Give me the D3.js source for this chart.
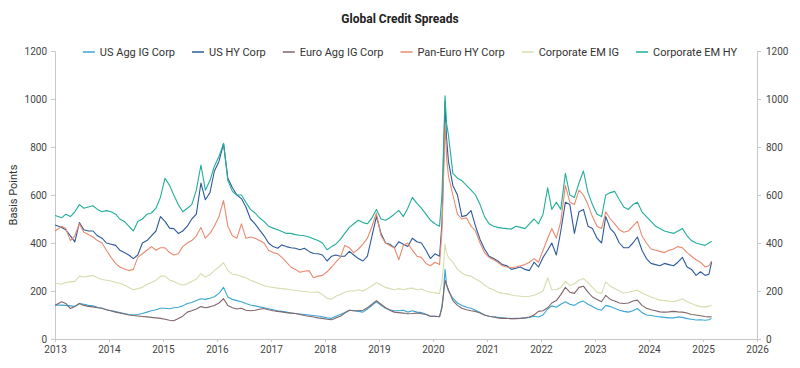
<!DOCTYPE html>
<html><head><meta charset="utf-8">
<script src="https://cdn.jsdelivr.net/npm/d3@7"></script>
<style>body{margin:0;background:#fff}svg{display:block}text{font-family:Roboto,"Noto Sans",sans-serif}</style>
</head><body><svg id="c" width="800" height="368"></svg>
<script>
const dates = [
"2013-01-02","2013-02-15","2013-03-15","2013-04-15","2013-05-15","2013-06-15","2013-07-15","2013-08-15","2013-09-15","2013-10-15","2013-11-15","2013-12-15",
"2014-01-15","2014-02-15","2014-03-15","2014-04-15","2014-05-15","2014-06-15","2014-07-15","2014-08-15","2014-09-15","2014-10-15","2014-11-15","2014-12-15",
"2015-01-15","2015-02-15","2015-03-15","2015-04-15","2015-05-15","2015-06-15","2015-07-15","2015-08-15","2015-09-15","2015-10-15","2015-11-15","2015-12-15",
"2016-01-15","2016-02-15","2016-03-15","2016-04-15","2016-05-15","2016-06-15","2016-07-15","2016-08-15","2016-09-15","2016-10-15","2016-11-15","2016-12-15",
"2017-01-15","2017-02-15","2017-03-15","2017-04-15","2017-05-15","2017-06-15","2017-07-15","2017-08-15","2017-09-15","2017-10-15","2017-11-15","2017-12-15",
"2018-01-15","2018-02-15","2018-03-15","2018-04-15","2018-05-15","2018-06-15","2018-07-15","2018-08-15","2018-09-15","2018-10-15","2018-11-15","2018-12-15",
"2019-01-15","2019-02-15","2019-03-15","2019-04-15","2019-05-15","2019-06-15","2019-07-15","2019-08-15","2019-09-15","2019-10-15","2019-11-15","2019-12-15",
"2020-01-15","2020-02-15","2020-03-02","2020-03-12","2020-03-23","2020-04-02","2020-04-15","2020-05-15","2020-06-15","2020-07-15","2020-08-15","2020-09-15","2020-10-15","2020-11-15","2020-12-15",
"2021-01-15","2021-02-15","2021-03-15","2021-04-15","2021-05-15","2021-06-15","2021-07-15","2021-08-15","2021-09-15","2021-10-15","2021-11-15","2021-12-15",
"2022-01-15","2022-02-15","2022-03-15","2022-04-15","2022-05-15","2022-06-15","2022-07-15","2022-08-15","2022-09-15","2022-10-15","2022-11-15","2022-12-15",
"2023-01-15","2023-02-15","2023-03-15","2023-04-15","2023-05-15","2023-06-15","2023-07-15","2023-08-15","2023-09-15","2023-10-15","2023-11-15","2023-12-15",
"2024-01-15","2024-02-15","2024-03-15","2024-04-15","2024-05-15","2024-06-15","2024-07-15","2024-08-15","2024-09-15","2024-10-15","2024-11-15","2024-12-15",
"2025-01-15","2025-02-10","2025-02-28"];

const usAggIG = [
141,141,140,138,136,148,145,140,138,132,128,122,
118,114,110,106,102,100,102,106,112,118,122,128,
128,126,130,132,138,148,152,160,168,165,170,176,
190,215,175,165,160,155,148,142,138,134,130,126,
122,118,115,112,108,106,104,102,100,98,96,93,
88,86,95,102,110,120,118,115,112,125,140,155,
140,128,122,118,118,120,112,118,112,110,103,95,
95,93,135,190,290,230,200,170,150,140,132,128,120,110,100,
95,92,90,88,86,85,86,86,88,90,95,92,
100,125,138,132,145,155,145,140,152,158,145,135,
125,120,140,135,128,120,115,112,118,127,110,100,
98,95,92,90,88,88,92,90,85,82,79,80,
78,80,86];

const usHY = [
475,465,455,430,405,485,455,450,450,430,420,400,
395,390,370,360,350,335,350,400,410,430,450,510,
490,462,460,440,450,470,500,520,650,580,610,700,
740,814,670,630,600,585,550,500,480,455,430,400,
385,378,392,385,380,378,372,378,365,356,355,350,
325,345,350,345,345,365,350,335,325,345,430,510,
440,400,395,380,405,395,385,420,405,400,370,335,
355,345,480,700,990,840,740,640,600,510,515,535,470,415,375,
345,335,325,310,305,290,295,300,290,285,320,300,
340,370,400,350,450,570,560,440,530,540,470,460,
420,400,510,460,440,400,380,380,400,425,370,335,
315,310,305,315,310,305,320,340,300,290,265,280,
265,270,320];

const euroAggIG = [
141,155,148,127,135,148,140,136,134,130,128,122,
118,112,108,104,100,98,96,94,92,90,88,86,
82,78,76,85,95,112,118,125,135,130,134,140,
150,168,140,130,125,128,120,118,120,124,127,122,
118,115,113,110,108,106,102,98,95,92,88,86,
82,80,88,95,108,120,118,118,120,130,145,160,
145,130,120,112,110,108,105,106,108,105,102,95,
95,93,130,180,245,225,205,160,140,128,122,118,115,108,100,
95,92,88,86,86,85,85,86,88,92,100,115,
118,130,150,160,185,215,195,190,215,220,195,175,
165,155,182,165,158,150,148,150,158,162,140,128,
122,118,113,112,113,115,113,112,108,102,100,97,
94,92,93];

const panEuroHY = [
450,470,460,410,430,480,445,435,425,410,400,370,
340,315,300,292,285,290,340,355,370,385,370,380,
380,360,350,355,385,400,410,430,465,420,440,470,
510,577,470,430,420,480,420,425,420,410,400,370,
360,355,340,320,300,290,278,282,285,255,262,265,
280,300,320,340,390,380,360,375,395,420,470,525,
430,400,390,380,330,390,400,370,345,340,315,305,
320,310,450,650,900,760,680,600,520,500,505,470,450,400,360,
340,330,320,305,300,298,300,305,310,320,335,320,
370,420,460,420,490,640,570,560,620,600,560,510,
470,460,530,500,480,455,445,450,470,490,430,400,
375,370,365,360,370,375,385,380,360,345,330,320,
300,305,325];

const emIG = [
232,228,236,238,240,262,258,262,265,255,248,245,
242,235,232,225,215,205,210,215,228,235,245,262,
262,245,240,230,225,230,240,250,272,258,268,285,
300,318,285,270,268,260,255,245,238,230,222,218,
215,212,210,208,205,202,200,198,196,195,196,185,
170,165,178,185,195,200,200,205,200,210,222,235,
225,215,210,205,210,205,210,212,205,208,200,195,
192,190,240,300,395,360,340,320,290,275,265,262,250,240,225,
212,205,195,190,188,183,180,178,176,178,182,190,
200,255,205,205,215,240,222,230,245,252,235,215,
195,190,238,220,210,200,192,195,200,203,192,183,
175,168,162,160,158,155,160,168,155,148,140,135,
134,137,141];

const emHY = [
515,505,520,510,530,560,545,550,555,540,530,535,
530,520,500,490,470,450,490,500,520,525,545,590,
670,640,600,560,530,545,560,620,725,620,660,720,
760,815,660,615,600,600,570,540,525,505,490,470,
462,455,448,440,440,435,432,430,425,418,410,400,
372,385,395,415,440,465,480,495,485,480,505,540,
500,495,505,520,536,510,545,590,565,545,520,495,
480,470,600,780,1013,900,850,690,670,660,640,620,600,560,510,
480,470,465,462,460,458,470,465,460,480,500,480,
520,630,540,570,540,690,600,590,650,700,610,560,
520,510,600,610,615,580,550,540,560,570,530,510,
490,470,460,450,445,440,450,460,430,410,400,395,
390,400,408];

const seriesNames = ["US Agg IG Corp","US HY Corp","Euro Agg IG Corp","Pan-Euro HY Corp","Corporate EM IG","Corporate EM HY"];
const seriesValues = [usAggIG, usHY, euroAggIG, panEuroHY, emIG, emHY];
const seriesColors = ["#3aa6d8","#2c5a9b","#80666a","#e98a6e","#d6ddae","#22ad9b"];
const yTicks = [0,200,400,600,800,1000,1200];
const xTickYears = [2013,2014,2015,2016,2017,2018,2019,2020,2021,2022,2023,2024,2025,2026];
const title = "Global Credit Spreads";
const yLabel = "Basis Points";

const parse = d3.timeParse("%Y-%m-%d");
const dts = dates.map(parse);
const svg = d3.select("#c");
const L = 55, R = 757, T = 51, B = 339;
const x = d3.scaleTime().domain([new Date(2013,0,1), new Date(2026,0,1)]).range([L, R]);
const y = d3.scaleLinear().domain([0,1200]).range([B, T]);
const axisColor = "#c8c8c8", textColor = "#444";

svg.append("text").attr("x",400).attr("y",23).attr("text-anchor","middle")
  .attr("font-size",12).attr("font-weight",700).attr("fill","#222").text(title);

const yl = svg.append("g").attr("transform",`translate(${L},0)`)
  .call(d3.axisLeft(y).tickValues(yTicks).tickFormat(d3.format("d")).tickSize(4).tickPadding(4));
const yr = svg.append("g").attr("transform",`translate(${R},0)`)
  .call(d3.axisRight(y).tickValues(yTicks).tickFormat(d3.format("d")).tickSize(4).tickPadding(5));
const xa = svg.append("g").attr("transform",`translate(0,${B})`)
  .call(d3.axisBottom(x).tickValues(xTickYears.map(v=>new Date(v,0,1))).tickFormat(d3.timeFormat("%Y")).tickSize(3).tickPadding(4));
[yl,yr,xa].forEach(g=>{
  g.selectAll("path").attr("stroke",axisColor);
  g.selectAll("line").attr("stroke",axisColor);
  g.selectAll("text").attr("fill",textColor).attr("font-size",10).attr("font-family","Roboto, sans-serif");
});

svg.append("text").attr("transform",`translate(17,${(T+B)/2}) rotate(-90)`)
  .attr("text-anchor","middle").attr("font-size",11).attr("fill","#333").text(yLabel);

const line = d3.line().x((d,i)=>x(dts[i])).y(d=>y(d));
seriesValues.forEach((vals,k)=>{
  svg.append("path").datum(vals).attr("d",line).attr("fill","none")
    .attr("stroke",seriesColors[k]).attr("stroke-width",1.1).attr("stroke-linejoin","round");
});

// legend
const lg = svg.append("g");
const items = seriesNames.map((n,k)=>{
  const g = lg.append("g");
  g.append("line").attr("x1",0).attr("x2",12).attr("y1",0).attr("y2",0).attr("stroke",seriesColors[k]).attr("stroke-width",1.5);
  const t = g.append("text").attr("x",17).attr("y",4).attr("font-size",11).attr("fill","#333").text(n);
  return {g, w: 17 + t.node().getComputedTextLength()};
});
const gap = 17;
const total = d3.sum(items, d=>d.w) + gap*(items.length-1);
let cx = 410 - total/2;
items.forEach(it=>{ it.g.attr("transform",`translate(${cx},52)`); cx += it.w + gap; });
</script></body></html>
